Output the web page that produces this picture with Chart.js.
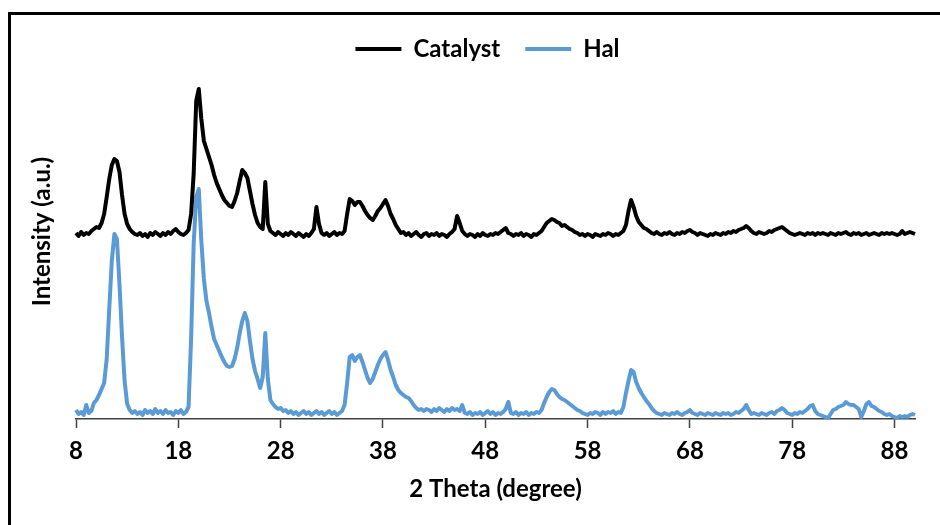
<!DOCTYPE html>
<html>
<head>
<meta charset="utf-8">
<script src="https://cdn.jsdelivr.net/npm/chart.js@4.4.1/dist/chart.umd.min.js"></script>
<style>
  html, body { margin: 0; padding: 0; background: #ffffff; overflow: hidden; }
  canvas { display: block; }
</style>
</head>
<body>
<canvas id="xrd" width="940" height="525"></canvas>
<script>
// XRD scan: 2θ from 8° to 90° in 0.25° steps
const scanStart = 8;
const scanStep = 0.25;

// Axis tick positions (degrees)
const tickAngles = [8, 18, 28, 38, 48, 58, 68, 78, 88];

// Intensity (a.u.) of the catalyst, one row per degree (x.00, x.25, x.50, x.75)
const catalyst = [
  186,183,187,184, 186,185,188,190, 192,191,196,205, 222,240,254,260,
  258,247,224,205, 195,190,187,185, 184,186,183,185, 182,186,184,187,
  185,183,186,184, 187,185,188,190, 187,185,184,186, 189,205,245,318,
  330,300,278,270, 262,254,244,236, 230,224,219,216, 213,212,218,226,
  238,249,246,241, 228,215,204,196, 192,190,237,195, 188,186,184,187,
  185,183,186,184, 187,185,183,186, 184,182,185,183, 186,190,212,195,
  186,184,186,183, 185,187,184,186, 185,188,205,220, 218,214,217,217,
  213,208,204,201, 199,203,208,211, 215,219,213,205, 200,194,190,186,
  187,184,186,183, 185,187,184,182, 185,186,183,185, 184,186,183,185,
  184,182,185,187, 190,203,196,188, 185,183,185,184, 182,185,183,186,
  184,183,185,184, 186,185,187,189, 191,186,185,183, 185,184,186,183,
  185,184,182,185, 184,186,188,192, 196,198,200,199, 197,196,193,194,
  192,190,189,187, 186,184,185,183, 185,184,182,185, 184,183,185,184,
  186,185,183,185, 184,186,188,194, 208,219,212,203, 197,194,191,190,
  188,186,185,187, 185,184,186,185, 187,185,184,186, 185,187,186,188,
  189,187,186,184, 186,185,184,183, 185,184,186,185, 184,186,185,187,
  186,188,187,189, 190,191,193,191, 188,186,185,187, 186,185,186,188,
  187,189,190,191, 192,190,188,186, 185,184,185,186, 185,184,186,185,
  186,184,186,185, 186,185,184,186, 185,184,186,185, 186,187,185,184,
  186,185,186,184, 185,186,184,185, 186,185,184,186, 185,186,185,186,
  185,184,185,188, 185,186,187,186, 185
];

// Intensity (a.u.) of the halloysite, same scan grid
const hal = [
  9,5,7,4, 14,6,8,16, 19,24,30,36, 60,110,158,185,
  180,135,82,38, 15,9,6,8, 5,7,4,9, 6,8,5,10,
  6,8,5,9, 6,7,4,8, 6,9,5,7, 12,80,175,222,
  230,178,140,118, 106,92,80,74, 68,62,57,53, 52,53,60,71,
  86,98,106,98, 78,60,48,40, 31,42,86,40, 19,15,12,10,
  11,8,9,6, 8,5,7,4, 6,8,5,7, 4,6,8,5,
  7,4,6,8, 5,7,4,6, 8,14,36,62, 64,58,62,64,
  57,49,41,36, 40,47,54,60, 64,67,59,49, 42,34,29,26,
  24,22,21,18, 14,11,9,10, 8,10,9,7, 10,8,11,9,
  7,10,8,11, 9,10,8,14, 6,5,7,4, 6,5,7,4,
  6,8,5,7, 4,6,5,7, 10,17,6,5, 7,4,6,5,
  7,4,6,5, 7,6,9,16, 22,27,30,29, 25,22,20,19,
  17,15,13,11, 9,8,6,5, 4,6,5,7, 6,4,7,5,
  7,6,8,5, 7,6,12,26, 38,49,47,37, 31,26,22,18,
  15,11,8,6, 5,4,6,5, 4,6,5,7, 5,4,6,7,
  9,6,5,4, 6,5,4,6, 5,4,6,5, 4,6,5,6,
  4,5,7,6, 8,10,14,9, 5,6,5,4, 6,5,4,6,
  7,5,8,9, 11,9,6,5, 4,6,5,7, 6,8,10,13,
  14,8,5,4, 3,2,1,5, 9,10,12,13, 14,17,15,14,
  14,12,10,2, 8,15,17,13, 12,10,8,7, 5,4,5,3,
  2,1,3,2, 3,2,4,5, 4
];

const seriesNames = ['Catalyst', 'Hal'];
const seriesColors = ['#000000', '#5B9BD5'];

const angles = catalyst.map((_, i) => scanStart + i * scanStep);
const toPoints = values => values.map((v, i) => ({ x: angles[i], y: v }));

const FONT = "Lato, 'Open Sans', sans-serif";

// Frame drawn along the top and left edges of the figure
const framePlugin = {
  id: 'frame',
  beforeDraw(chart) {
    const ctx = chart.ctx;
    ctx.save();
    ctx.fillStyle = '#ffffff';
    ctx.fillRect(0, 0, chart.width, chart.height);
    ctx.fillStyle = '#000000';
    ctx.fillRect(8, 12, chart.width - 8, 3);
    ctx.fillRect(8, 12, 3, chart.height - 12);
    ctx.restore();
  }
};

// The legend reserves only a short strip in the layout; let it draw past that strip
const legendOverlapPlugin = {
  id: 'legendOverlap',
  afterLayout(chart) {
    const lg = chart.legend;
    if (lg) {
      lg.bottom = lg.top + 90;
      lg.height = 90;
    }
  }
};

new Chart(document.getElementById('xrd'), {
  type: 'line',
  data: {
    datasets: [
      {
        label: seriesNames[0],
        data: toPoints(catalyst),
        borderColor: seriesColors[0],
        backgroundColor: seriesColors[0],
        borderWidth: 4,
        pointRadius: 0,
        tension: 0,
        borderJoinStyle: 'round',
        clip: false
      },
      {
        label: seriesNames[1],
        data: toPoints(hal),
        borderColor: seriesColors[1],
        backgroundColor: seriesColors[1],
        borderWidth: 4,
        pointRadius: 0,
        tension: 0,
        borderJoinStyle: 'round',
        clip: false
      }
    ]
  },
  options: {
    responsive: false,
    animation: false,
    devicePixelRatio: 1,
    layout: { padding: { top: 12, left: 60, right: 25, bottom: 0 } },
    plugins: {
      tooltip: { enabled: false },
      legend: {
        position: 'top',
        align: 'center',
        maxHeight: 32,
        labels: {
          usePointStyle: true,
          pointStyle: 'line',
          pointStyleWidth: 46,
          padding: 25,
          color: '#000000',
          font: { family: FONT, size: 24, weight: 'bold' }
        }
      }
    },
    scales: {
      x: {
        type: 'linear',
        min: 8,
        max: 90,
        afterFit(scale) { scale.height = 106; },
        afterBuildTicks(scale) { scale.ticks = tickAngles.map(v => ({ value: v })); },
        grid: {
          display: true,
          drawOnChartArea: false,
          drawTicks: true,
          tickLength: 9,
          tickWidth: 1.5,
          tickColor: '#404040'
        },
        border: { display: true, color: '#404040', width: 1.5 },
        ticks: {
          padding: 9,
          autoSkip: false,
          maxRotation: 0,
          color: '#000000',
          font: { family: FONT, size: 24, weight: 'bold' },
          callback: v => String(v)
        },
        title: {
          display: true,
          text: '2 Theta (degree)',
          color: '#000000',
          font: { family: FONT, size: 24, weight: 'bold' },
          padding: { top: 0, bottom: 21.6 }
        }
      },
      y: {
        min: 0,
        max: 375,
        afterFit(scale) { scale.width = 16; },
        grid: { display: false },
        border: { display: false },
        ticks: { display: false },
        title: {
          display: true,
          text: 'Intensity (a.u.)',
          color: '#000000',
          font: { family: FONT, size: 24, weight: 'bold' },
          padding: { top: -32.4, bottom: 0 }
        }
      }
    }
  },
  plugins: [framePlugin, legendOverlapPlugin]
});
</script>
</body>
</html>
